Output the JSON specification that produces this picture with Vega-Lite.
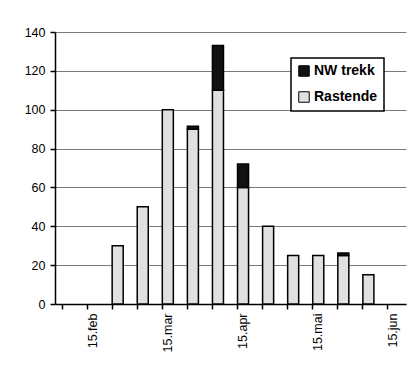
{
  "$schema": "https://vega.github.io/schema/vega-lite/v6.json",
  "width": 351,
  "height": 272,
  "autosize": {"type": "none"},
  "padding": {"left": 55, "top": 32, "right": 9, "bottom": 65},
  "background": "white",
  "config": {
    "font": "Liberation Sans",
    "view": {"stroke": null},
    "axis": {"labelFont": "Liberation Sans", "labelFontSize": 12.5, "labelColor": "black", "domainColor": "black", "domainWidth": 1.5, "tickColor": "black", "tickWidth": 1.5, "tickSize": 5}
  },
  "data": {
    "values": [
      {"period": "25.feb", "series": "Rastende", "count": 30},
      {"period": "5.mar", "series": "Rastende", "count": 50},
      {"period": "15.mar", "series": "Rastende", "count": 100},
      {"period": "25.mar", "series": "Rastende", "count": 90},
      {"period": "25.mar", "series": "NW trekk", "count": 1.5},
      {"period": "5.apr", "series": "Rastende", "count": 110},
      {"period": "5.apr", "series": "NW trekk", "count": 23},
      {"period": "15.apr", "series": "Rastende", "count": 60},
      {"period": "15.apr", "series": "NW trekk", "count": 12},
      {"period": "25.apr", "series": "Rastende", "count": 40},
      {"period": "5.mai", "series": "Rastende", "count": 25},
      {"period": "15.mai", "series": "Rastende", "count": 25},
      {"period": "25.mai", "series": "Rastende", "count": 25},
      {"period": "25.mai", "series": "NW trekk", "count": 1.2},
      {"period": "5.jun", "series": "Rastende", "count": 15}
    ]
  },
  "mark": {"type": "bar", "stroke": "black", "strokeWidth": 1.5},
  "encoding": {
    "x": {
      "field": "period",
      "type": "ordinal",
      "title": null,
      "scale": {
        "domain": ["5.feb", "15.feb", "25.feb", "5.mar", "15.mar", "25.mar", "5.apr", "15.apr", "25.apr", "5.mai", "15.mai", "25.mai", "5.jun", "15.jun"],
        "paddingInner": 0.56,
        "paddingOuter": 0.28
      },
      "axis": {
        "bandPosition": 0,
        "labelAngle": -90,
        "labelAlign": "right",
        "labelBaseline": "middle",
        "labelPadding": 4,
        "labelExpr": "indexof(datum.value, '15.') == 0 ? datum.value : ''",
        "grid": false
      }
    },
    "y": {
      "field": "count",
      "type": "quantitative",
      "title": null,
      "stack": "zero",
      "scale": {"domain": [0, 140], "nice": false},
      "axis": {"values": [0, 20, 40, 60, 80, 100, 120, 140], "grid": true, "gridColor": "#7a7a7a", "gridWidth": 1, "labelPadding": 5}
    },
    "color": {
      "field": "series",
      "type": "nominal",
      "scale": {"domain": ["NW trekk", "Rastende"], "range": ["#111111", "#e0e0e0"]},
      "legend": {
        "title": null,
        "orient": "none",
        "legendX": 236,
        "legendY": 26,
        "direction": "vertical",
        "strokeColor": "black",
        "fillColor": "white",
        "padding": 6,
        "rowPadding": 10,
        "symbolType": "square",
        "symbolSize": 110,
        "symbolStrokeColor": "black",
        "symbolStrokeWidth": 1,
        "symbolOffset": 0,
        "labelOffset": 3,
        "labelFont": "Liberation Sans",
        "labelFontSize": 14,
        "labelFontWeight": "bold",
        "labelColor": "black",
        "encode": {"legend": {"update": {"strokeWidth": {"value": 1.5}}}}
      }
    },
    "order": {"field": "series", "sort": "descending"}
  }
}
